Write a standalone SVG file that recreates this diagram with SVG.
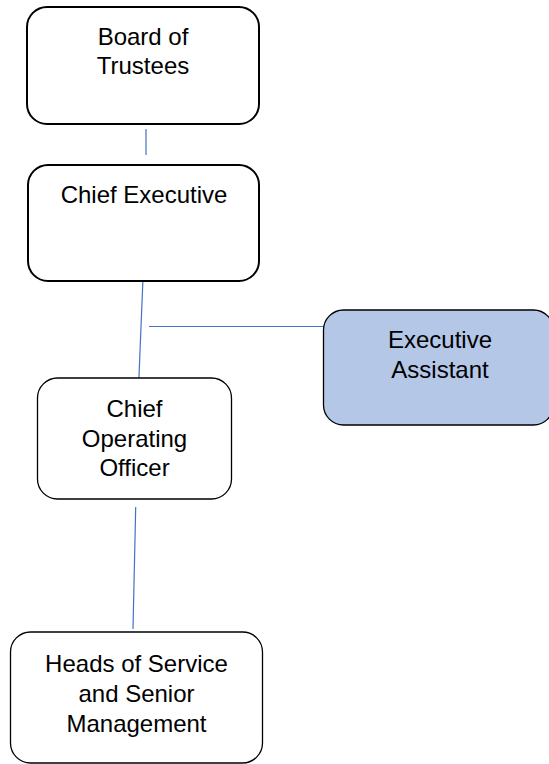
<svg xmlns="http://www.w3.org/2000/svg" width="549" height="764" viewBox="0 0 549 764">
<style>
.box{fill:#ffffff;stroke:#000000;stroke-width:1.3}
.thick{stroke-width:2}
.ea{fill:#b4c7e7}
.lbl{font-family:"Liberation Sans",Arial,sans-serif;font-size:24px;fill:#000000;text-anchor:middle}
.conn{stroke:#4472c4;stroke-width:1.2;fill:none}
</style>
<rect width="549" height="764" fill="#ffffff"/>
<g id="connectors">
<line class="conn" x1="146" y1="129" x2="146" y2="155"/>
<line class="conn" x1="143" y1="278" x2="138.5" y2="388"/>
<line class="conn" x1="149" y1="326.5" x2="327" y2="326.5"/>
<line class="conn" x1="135.7" y1="507" x2="133" y2="629"/>
</g>
<g id="board">
<rect class="box thick" x="27" y="7" width="232" height="117" rx="20"/>
<text class="lbl" x="143" y="45">Board of</text>
<text class="lbl" x="143" y="74">Trustees</text>
</g>
<g id="ceo">
<rect class="box thick" x="28" y="165" width="231" height="116" rx="20"/>
<text class="lbl" x="144" y="203">Chief Executive</text>
</g>
<g id="ea">
<rect class="box ea" x="323.5" y="310" width="230" height="115" rx="20"/>
<text class="lbl" x="440" y="348">Executive</text>
<text class="lbl" x="440" y="378">Assistant</text>
</g>
<g id="coo">
<rect class="box" x="37.5" y="378" width="194" height="121" rx="20"/>
<text class="lbl" x="134.5" y="417">Chief</text>
<text class="lbl" x="134.5" y="446.5">Operating</text>
<text class="lbl" x="134.5" y="476">Officer</text>
</g>
<g id="heads">
<rect class="box" x="10.5" y="632" width="252" height="131" rx="20"/>
<text class="lbl" x="136.5" y="672">Heads of Service</text>
<text class="lbl" x="136.5" y="702">and Senior</text>
<text class="lbl" x="136.5" y="732">Management</text>
</g>
</svg>
